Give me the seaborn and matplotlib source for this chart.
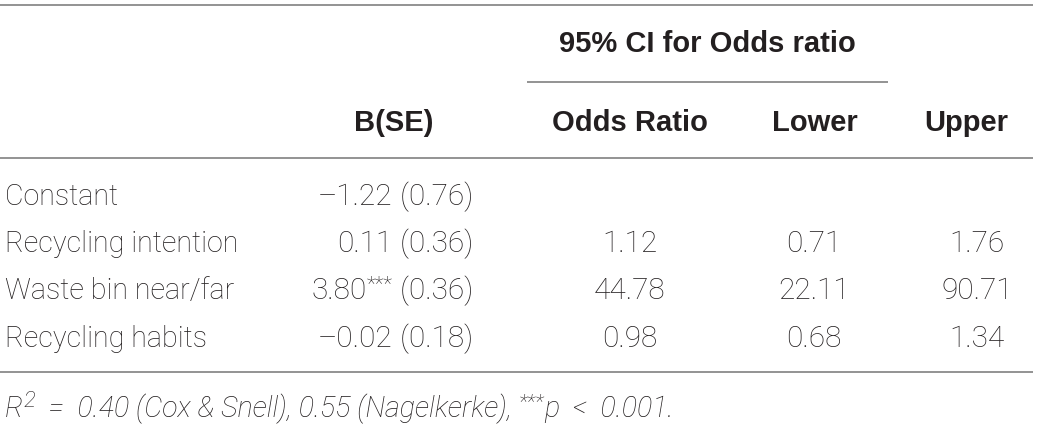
import matplotlib
matplotlib.use("Agg")
import matplotlib.pyplot as plt
import seaborn as sns

# table content
row_labels = ["Constant", "Recycling intention", "Waste bin near/far", "Recycling habits"]
b_values = ["\u20131.22", "0.11", "3.80", "\u20130.02"]
b_stars = ["", "", "***", ""]
se_values = ["(0.76)", "(0.36)", "(0.36)", "(0.18)"]
odds_ratio = ["", "1.12", "44.78", "0.98"]
ci_lower = ["", "0.71", "22.11", "0.68"]
ci_upper = ["", "1.76", "90.71", "1.34"]
col_headers = ["B(SE)", "Odds Ratio", "Lower", "Upper"]
group_header = "95% CI for Odds ratio"
note_r2 = ["R", "2", "  =  0.40 (Cox & Snell), 0.55 (Nagelkerke), ", "***", "p  <  0.001."]

sns.set_theme(style="white")
plt.rcParams["font.family"] = ["Roboto", "DejaVu Sans"]

W, H = 1039, 426
fig = plt.figure(figsize=(W / 100, H / 100), dpi=100)
ax = fig.add_axes([0, 0, 1, 1])
ax.set_xlim(0, W)
ax.set_ylim(H, 0)
ax.axis("off")
renderer = fig.canvas.get_renderer()

FS = 20.6
NUM = 21.4
SUP = 15
line_col = "#8a8a8a"
txt_col = "#231f20"
body = dict(fontsize=FS, color=txt_col, fontweight="light", va="baseline")
head = dict(fontsize=21, color=txt_col, fontweight="bold", va="baseline",
            family=["Liberation Sans", "DejaVu Sans"])


def width_of(t):
    return t.get_window_extent(renderer).width


def run_right(x, y, pieces, style):
    # pieces: (text, size, raise) laid out from right to left
    for s, size, up in reversed(pieces):
        if not s:
            continue
        t = ax.text(x, y - up, s, ha="right", **{**style, "fontsize": size})
        x -= width_of(t)


def run_left(x, y, pieces, style):
    for s, size, up in pieces:
        t = ax.text(x, y - up, s, ha="left", **{**style, "fontsize": size})
        x += width_of(t)


# rules
for y, x0, x1 in [(5, 0, 1033), (82, 527, 888), (158, 0, 1033), (372, 0, 1033)]:
    ax.plot([x0, x1], [y, y], color=line_col, lw=1.3, solid_capstyle="butt")

# headers
ax.text(707, 52, group_header, ha="center", **head)
ax.text(433, 131, col_headers[0], ha="right", **head)
ax.text(630, 131, col_headers[1], ha="center", **head)
ax.text(815, 131, col_headers[2], ha="center", **head)
ax.text(966, 131, col_headers[3], ha="center", **head)

# body rows
row_y = [205, 252, 299, 347]
for i, y in enumerate(row_y):
    ax.text(5, y, row_labels[i], ha="left", **body)
    run_right(473, y, [(b_values[i], NUM, 0), (b_stars[i], SUP, 9), (" " + se_values[i], NUM, 0)], body)
    ax.text(630, y, odds_ratio[i], ha="center", **{**body, "fontsize": NUM})
    ax.text(814, y, ci_lower[i], ha="center", **{**body, "fontsize": NUM})
    ax.text(977, y, ci_upper[i], ha="center", **{**body, "fontsize": NUM})

# footnote
foot_style = dict(body, style="italic")
run_left(5, 417, [(note_r2[0], FS, 0), (note_r2[1], SUP + 1, 10), (note_r2[2], FS, 0),
                  (note_r2[3], SUP, 9), (note_r2[4], FS, 0)], foot_style)

fig.savefig("out.png", dpi=100, facecolor="white")
